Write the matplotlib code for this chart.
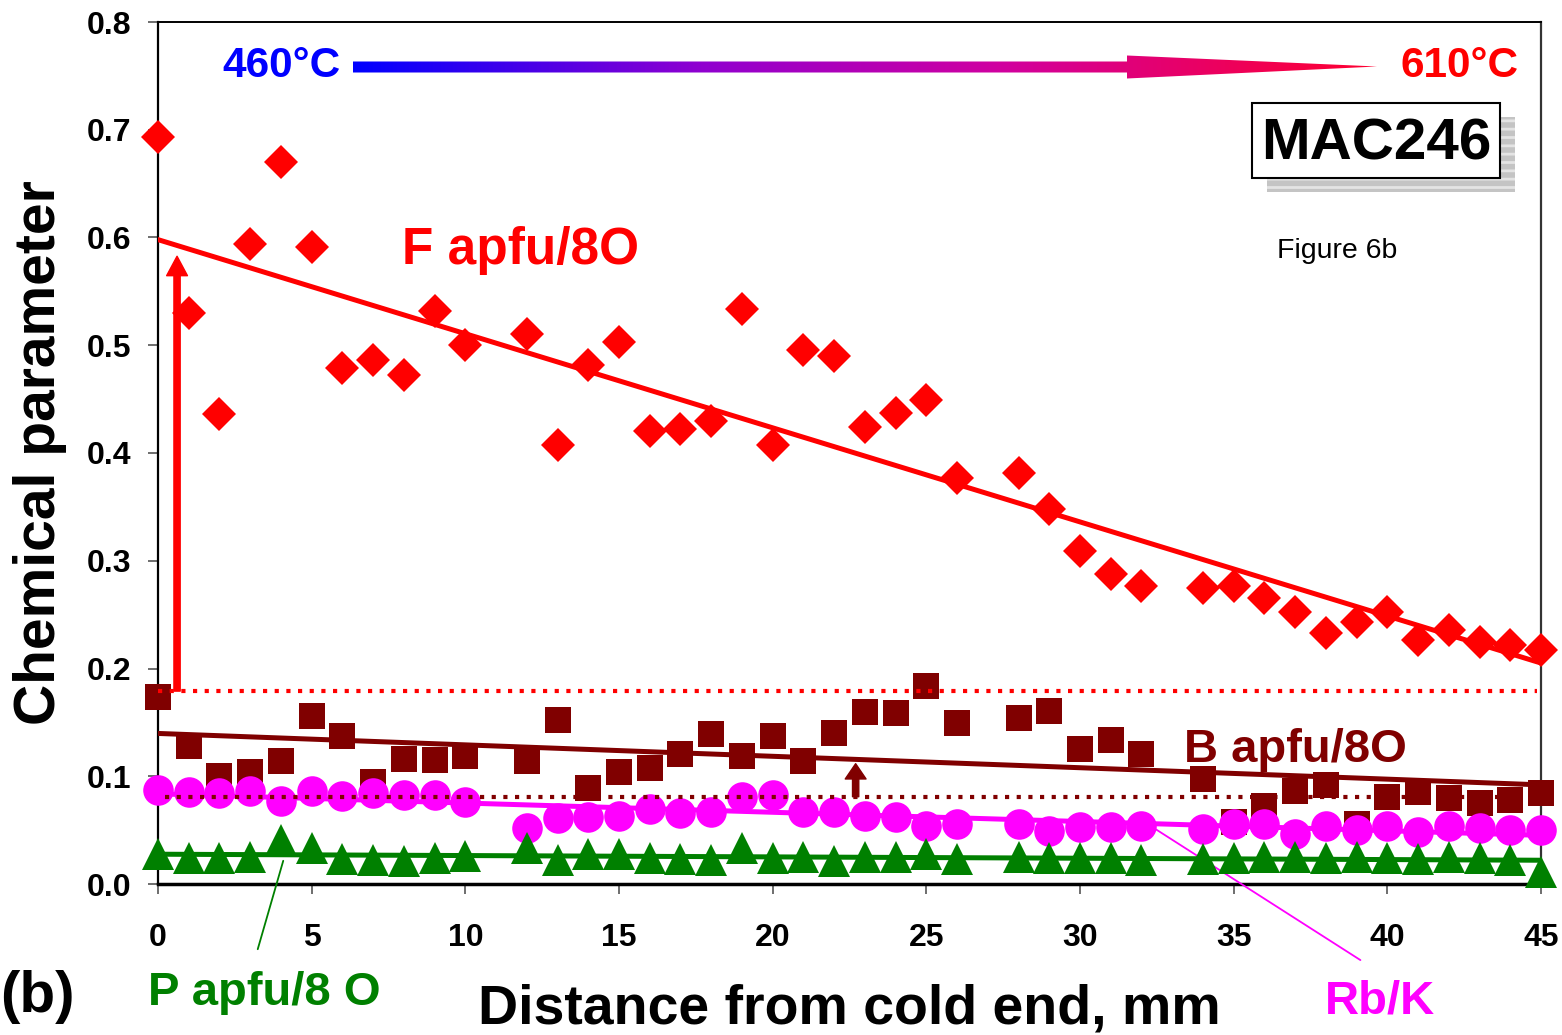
import numpy as np
import matplotlib.pyplot as plt
from matplotlib.colors import LinearSegmentedColormap
from matplotlib.patches import Polygon, Rectangle

plt.rcParams['font.family'] = ['Liberation Sans', 'DejaVu Sans']
plt.rcParams['font.weight'] = 'bold'
plt.rcParams['hatch.linewidth'] = 2.0

# distance from cold end, mm (no analyses at 11, 27 and 33 mm)
dist = [0, 1, 2, 3, 4, 5, 6, 7, 8, 9, 10,
        12, 13, 14, 15, 16, 17, 18, 19, 20, 21, 22, 23, 24, 25, 26,
        28, 29, 30, 31, 32,
        34, 35, 36, 37, 38, 39, 40, 41, 42, 43, 44, 45]

f_apfu = [0.693, 0.530, 0.436, 0.594, 0.670, 0.591, 0.479, 0.486, 0.472, 0.532, 0.500,
          0.510, 0.407, 0.482, 0.503, 0.420, 0.422, 0.430, 0.534, 0.407, 0.496, 0.490,
          0.424, 0.437, 0.449, 0.377,
          0.381, 0.348, 0.309, 0.288, 0.277,
          0.275, 0.277, 0.265, 0.252, 0.233, 0.243, 0.252, 0.226, 0.236, 0.225, 0.222, 0.217]

b_apfu = [0.174, 0.128, 0.100, 0.104, 0.114, 0.156, 0.137, 0.095, 0.116, 0.115, 0.119,
          0.114, 0.152, 0.089, 0.104, 0.108, 0.121, 0.139, 0.119, 0.137, 0.114, 0.140,
          0.160, 0.159, 0.184, 0.149,
          0.154, 0.161, 0.125, 0.134, 0.121,
          0.097, 0.058, 0.072, 0.086, 0.092, 0.056, 0.081, 0.085, 0.080, 0.075, 0.078, 0.084]

rb_k = [0.087, 0.085, 0.084, 0.086, 0.077, 0.086, 0.082, 0.084, 0.083, 0.083, 0.076,
        0.052, 0.061, 0.062, 0.063, 0.070, 0.066, 0.067, 0.081, 0.083, 0.067, 0.067,
        0.063, 0.062, 0.054, 0.056,
        0.056, 0.049, 0.053, 0.053, 0.054,
        0.051, 0.056, 0.056, 0.046, 0.054, 0.050, 0.054, 0.048, 0.054, 0.052, 0.050, 0.050]

p_apfu = [0.028, 0.024, 0.024, 0.025, 0.041, 0.033, 0.023, 0.022, 0.021, 0.024, 0.026,
          0.033, 0.022, 0.028, 0.028, 0.024, 0.023, 0.022, 0.033, 0.024, 0.025, 0.021,
          0.025, 0.025, 0.028, 0.023,
          0.025, 0.024, 0.024, 0.024, 0.022,
          0.023, 0.024, 0.025, 0.025, 0.024, 0.025, 0.024, 0.023, 0.025, 0.024, 0.022, 0.011]

# detection limits (dotted lines)
f_limit = 0.179
b_limit = 0.081

red = '#ff0000'
maroon = '#800000'
magenta = '#ff00ff'
green = '#008000'

fig = plt.figure(figsize=(15.62, 10.35), dpi=100)
ax = fig.add_axes([158 / 1562, 151 / 1035, 1383 / 1562, 862 / 1035])

x = np.array(dist)
xx = np.array([0, 45])

# data points
ax.plot(x, f_apfu, 'D', color=red, ms=17, mew=0, clip_on=False, zorder=3)
ax.plot(x, b_apfu, 's', color=maroon, ms=19, mew=0, clip_on=False, zorder=3)
ax.plot(x, rb_k, 'o', color=magenta, ms=22, mew=0, clip_on=False, zorder=4)
ax.plot(x, p_apfu, '^', color=green, ms=23, mew=0, clip_on=False, zorder=4)

# linear trends
f_fit = np.polyfit(x, f_apfu, 1)
b_fit = np.polyfit(x, b_apfu, 1)
rb_fit = np.polyfit(x, rb_k, 1)
p_fit = np.polyfit(x, p_apfu, 1)
ax.plot(xx, np.polyval(f_fit, xx), color=red, lw=3.6, zorder=3.5)
ax.plot(xx, np.polyval(b_fit, xx), color=maroon, lw=3.6, zorder=3.5)
ax.plot(xx, np.polyval(rb_fit, xx), color=magenta, lw=3.6, zorder=4.5)
ax.plot(xx, np.polyval(p_fit, xx), color=green, lw=3.6, zorder=4.5)

# dotted limit lines
ax.axhline(f_limit, xmin=0.0, xmax=0.997, color=red, lw=3.0, ls=(0, (1, 1.8)), zorder=5)
ax.axhline(b_limit, xmin=0.005, xmax=0.997, color=maroon, lw=3.0, ls=(0, (1, 1.8)), zorder=5)

# arrows from limit lines up to trends
ax.annotate('', xy=(0.62, np.polyval(f_fit, 0.62) - 0.01), xytext=(0.62, f_limit),
            arrowprops=dict(color=red, width=4.5, headwidth=15, headlength=14, shrink=0),
            zorder=5)
ax.annotate('', xy=(22.7, np.polyval(b_fit, 22.7) - 0.004), xytext=(22.7, b_limit),
            arrowprops=dict(color=maroon, width=4.5, headwidth=15, headlength=11, shrink=0),
            zorder=5)

# leader lines for labels below the axis
ax.annotate('', xy=(4.1, 0.024), xytext=(3.22, -0.063),
            arrowprops=dict(arrowstyle='-', color=green, lw=1.3), annotation_clip=False)
ax.annotate('', xy=(32.4, 0.052), xytext=(39.2, -0.072),
            arrowprops=dict(arrowstyle='-', color=magenta, lw=1.3), annotation_clip=False)

ax.text(7.95, 0.575, 'F apfu/8O', color=red, fontsize=37, fontweight='bold')
ax.text(33.4, 0.113, 'B apfu/8O', color=maroon, fontsize=34, fontweight='bold')

ax.set_xlim(0, 45)
ax.set_ylim(0, 0.8)
ax.set_xticks(range(0, 46, 5))
ax.set_yticks(np.arange(0, 0.81, 0.1))
ax.set_yticklabels(['%.1f' % v for v in np.arange(0, 0.81, 0.1)])
ax.tick_params(axis='both', direction='out', length=7, width=1.2, color='#555555', labelsize=23)
ax.tick_params(axis='x', pad=21)
ax.tick_params(axis='y', pad=12)
for lab in ax.get_xticklabels() + ax.get_yticklabels():
    lab.set_fontweight('bold')

ax.spines['bottom'].set_linewidth(2.5)
ax.spines['left'].set_linewidth(1.6)
ax.spines['top'].set_linewidth(1.4)
ax.spines['right'].set_linewidth(1.6)
ax.spines['right'].set_color('#333333')

ax.set_xlabel('Distance from cold end, mm', fontsize=40, fontweight='bold')
ax.xaxis.set_label_coords(0.4996, -0.116)
ax.set_ylabel('Chemical parameter', fontsize=41, fontweight='bold')
ax.yaxis.set_label_coords(-0.0658, 0.5)

# overlay in pixel units for the decorations around the plot
ov = fig.add_axes([0, 0, 1, 1], zorder=5)
ov.axis('off')

# temperature gradient arrow
cmap = LinearSegmentedColormap.from_list(
    'temp', [(0, '#0000ff'), (0.34, '#9000d0'), (0.63, '#d000a0'), (1, '#ff0030')])
grad = np.linspace(0, 1, 256).reshape(1, -1)
im = ov.imshow(grad, extent=(353, 1377, 80, 54), cmap=cmap, aspect='auto')
arrow = Polygon([(353, 61.5), (1127, 61.5), (1127, 55.5), (1377, 66.5),
                 (1127, 78.5), (1127, 72.5), (353, 72.5)],
                closed=True, facecolor='none', edgecolor='none')
ov.add_patch(arrow)
im.set_clip_path(arrow)
ov.text(222, 77, '460°C', color='#0000ff', fontsize=30.5, fontweight='bold', va='baseline')
ov.text(1400, 77, '610°C', color=red, fontsize=30.5, fontweight='bold', va='baseline')

# sample label with shadow
ov.add_patch(Rectangle((1267, 117), 248, 75, facecolor='#c4c4c4', edgecolor='#e4e4e4',
                       hatch='--', lw=0))
ov.add_patch(Rectangle((1252, 103), 248, 75, facecolor='white', edgecolor='black', lw=1.5))
ov.text(1376, 160, 'MAC246', fontsize=42, fontweight='bold', ha='center', va='baseline')
ov.text(1277, 258, 'Figure 6b', fontsize=20.5, fontweight='normal', va='baseline')

ov.text(0, 1012, '(b)', fontsize=42, fontweight='bold', va='baseline')
ov.text(148, 1005, 'P apfu/8 O', color=green, fontsize=34, fontweight='bold', va='baseline')
ov.text(1325, 1013, 'Rb/K', color=magenta, fontsize=34, fontweight='bold', va='baseline')

ov.set_xlim(0, 1562)
ov.set_ylim(1035, 0)

fig.savefig('out.png', dpi=100)
